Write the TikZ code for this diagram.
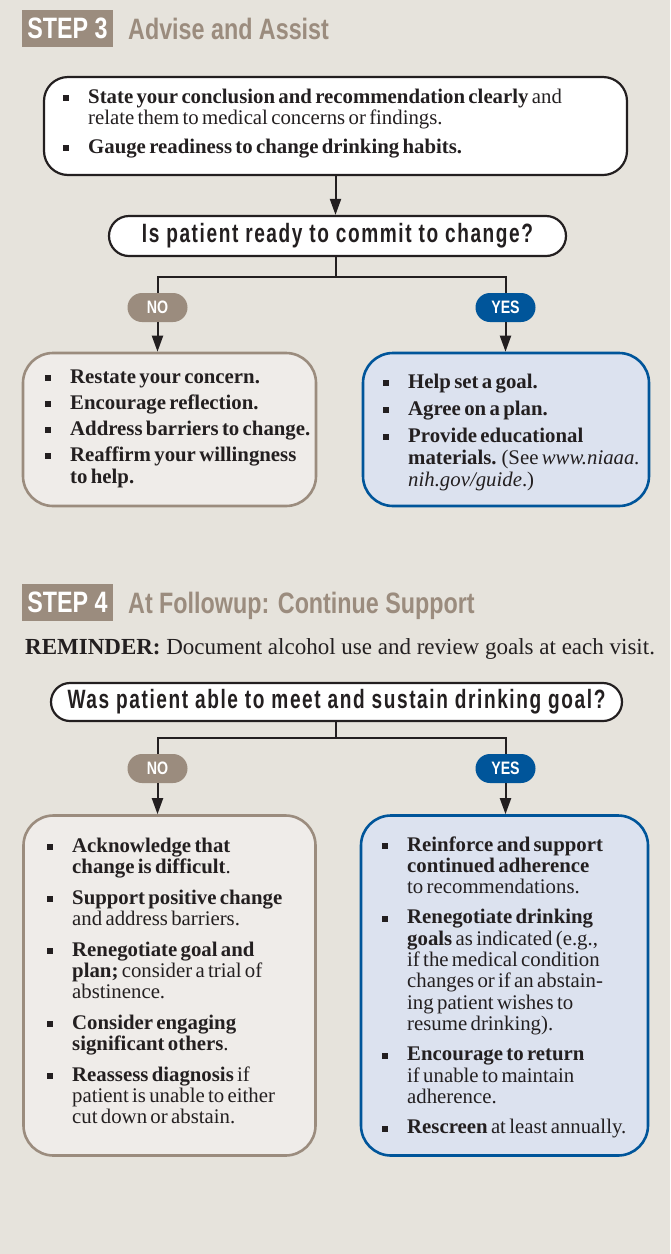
\documentclass[tikz,border=0pt]{standalone}
\usepackage{fontspec}
\setmainfont{Liberation Serif}
\newfontfamily\headfont{Liberation Sans}[FakeStretch=0.79]
\newfontfamily\askfont{Liberation Sans}[FakeStretch=0.72,LetterSpace=6]
\usetikzlibrary{shapes.misc,arrows.meta,positioning}
\definecolor{pagebg}{RGB}{230,227,220}
\definecolor{taupe}{RGB}{155,140,126}
\definecolor{nihblue}{RGB}{0,85,154}
\definecolor{nofill}{RGB}{239,236,233}
\definecolor{yesfill}{RGB}{220,226,239}
\definecolor{ink}{RGB}{35,31,32}

% square bullet with hanging text
\newlength{\itemgap}
\newcommand{\firstsq}{\noindent\hangindent=25pt\hangafter=1%
  \makebox[25pt][l]{\raisebox{2pt}{\rule{6pt}{6pt}}}}
\newcommand{\sqitem}{\par\vspace{\itemgap}\firstsq}
\newcommand{\listsetup}[2]{\fontsize{20.8}{#1}\selectfont\setlength{\parskip}{0pt}\setlength{\itemgap}{#2}\raggedright}

\tikzset{
  stepbadge/.style={fill=taupe, text=white, inner sep=0pt, minimum width=91pt, minimum height=37pt, font=\headfont\bfseries\fontsize{29.5}{30}\selectfont},
  steptitle/.style={text=taupe, inner sep=0pt, anchor=base west, font=\headfont\bfseries\fontsize{29.5}{30}\selectfont},
  askbox/.style={rounded rectangle, draw=ink, line width=2.2pt, fill=white, text=ink, inner sep=0pt, font=\askfont\bfseries\fontsize{26.5}{27}\selectfont},
  answer/.style={rounded rectangle, text=white, inner sep=0pt, minimum width=60pt, minimum height=29pt, font=\headfont\bfseries\fontsize{18}{18}\selectfont},
  nobox/.style={draw=taupe, fill=nofill, line width=2.6pt, rounded corners=30pt, inner sep=0pt},
  yesbox/.style={draw=nihblue, fill=yesfill, line width=2.6pt, rounded corners=30pt, inner sep=0pt},
  listtext/.style={text=ink, inner sep=0pt, anchor=base west, text width=280pt},
  flow/.style={draw=ink, line width=2pt},
  flowarrow/.style={flow, -{Triangle[length=16pt,width=11pt]}}
}

\begin{document}
\begin{tikzpicture}[x=1pt, y=-1pt]
  \fill[pagebg] (0,0) rectangle (670,1254);

  % step 3
  \node[stepbadge] (badge3) at (67.5,28.5) {STEP 3};
  \node[steptitle] (title3) at (128,39) {Advise and Assist};

  \node[draw=ink, fill=white, line width=2.2pt, rounded corners=24pt, inner sep=0pt, minimum width=583pt, minimum height=98pt] (advise) at (335.5,126) {};
  \node[listtext, text width=560pt] (advisetext) at (63,103) {\listsetup{21pt}{8pt}%
    \firstsq\textbf{State your conclusion and recommendation clearly} and\newline relate them to medical concerns or findings.
    \sqitem\textbf{Gauge readiness to change drinking habits.}\par};

  \node[askbox, minimum width=457pt, minimum height=40pt] (ready) at (337.5,236) {Is patient ready to commit to change?};
  \draw[flowarrow] (advise.south) -- (advise.south |- ready.north);

  \node[answer, fill=taupe] (no3) at (157.5,307.5) {NO};
  \node[answer, fill=nihblue] (yes3) at (505.5,307.5) {YES};
  \coordinate (fork3) at (336,277);
  \draw[flow] (ready.south -| fork3) -- (fork3);
  \draw[flow] (no3.north) |- (fork3) -| (yes3.north);

  \node[nobox, minimum width=293pt, minimum height=153pt] (notready) at (169.5,429.5) {};
  \node[yesbox, minimum width=286pt, minimum height=153pt] (isready) at (506,429.5) {};
  \draw[flowarrow] (no3.south) -- (no3.south |- notready.north);
  \draw[flowarrow] (yes3.south) -- (yes3.south |- isready.north);

  \node[listtext] (notreadytext) at (45,383) {\listsetup{22pt}{4pt}%
    \firstsq\textbf{Restate your concern.}
    \sqitem\textbf{Encourage reflection.}
    \sqitem\textbf{Address barriers to change.}
    \sqitem\textbf{Reaffirm your willingness\newline to help.}\par};
  \node[listtext] (isreadytext) at (383,388) {\listsetup{22pt}{5pt}%
    \firstsq\textbf{Help set a goal.}
    \sqitem\textbf{Agree on a plan.}
    \sqitem\textbf{Provide educational\newline materials.} (See \textit{www.niaaa.\newline nih.gov/guide}.)\par};

  % step 4
  \node[stepbadge] (badge4) at (67.5,602.5) {STEP 4};
  \node[steptitle] (title4) at (128,613) {At Followup: Continue Support};
  \node[text=ink, inner sep=0pt, anchor=base west, font=\fontsize{23}{26}\selectfont] (reminder) at (25,654) {\textbf{REMINDER:} Document alcohol use and review goals at each visit.};

  \node[askbox, minimum width=571pt, minimum height=38pt] (goalmet) at (336.5,702) {Was patient able to meet and sustain drinking goal?};

  \node[answer, fill=taupe] (no4) at (157.5,768.5) {NO};
  \node[answer, fill=nihblue] (yes4) at (505.5,768.5) {YES};
  \coordinate (fork4) at (336,738);
  \draw[flow] (goalmet.south -| fork4) -- (fork4);
  \draw[flow] (no4.north) |- (fork4) -| (yes4.north);

  \node[nobox, minimum width=292pt, minimum height=340pt] (notmet) at (169.5,985.5) {};
  \node[yesbox, minimum width=287pt, minimum height=340pt] (met) at (504.5,985.5) {};
  \draw[flowarrow] (no4.south) -- (no4.south |- notmet.north);
  \draw[flowarrow] (yes4.south) -- (yes4.south |- met.north);

  \node[listtext] (notmettext) at (47,852) {\listsetup{21pt}{10pt}%
    \firstsq\textbf{Acknowledge that\newline change is difficult}.
    \sqitem\textbf{Support positive change}\newline and address barriers.
    \sqitem\textbf{Renegotiate goal and\newline plan;} consider a trial of\newline abstinence.
    \sqitem\textbf{Consider engaging\newline significant others}.
    \sqitem\textbf{Reassess diagnosis} if\newline patient is unable to either\newline cut down or abstain.\par};
  \node[listtext] (mettext) at (382,851) {\listsetup{21.3pt}{9pt}%
    \firstsq\textbf{Reinforce and support\newline continued adherence}\newline to recommendations.
    \sqitem\textbf{Renegotiate drinking\newline goals} as indicated (e.g.,\newline if the medical condition\newline changes or if an abstain-\newline ing patient wishes to\newline resume drinking).
    \sqitem\textbf{Encourage to return}\newline if unable to maintain\newline adherence.
    \sqitem\textbf{Rescreen} at least annually.\par};
\end{tikzpicture}
\end{document}
